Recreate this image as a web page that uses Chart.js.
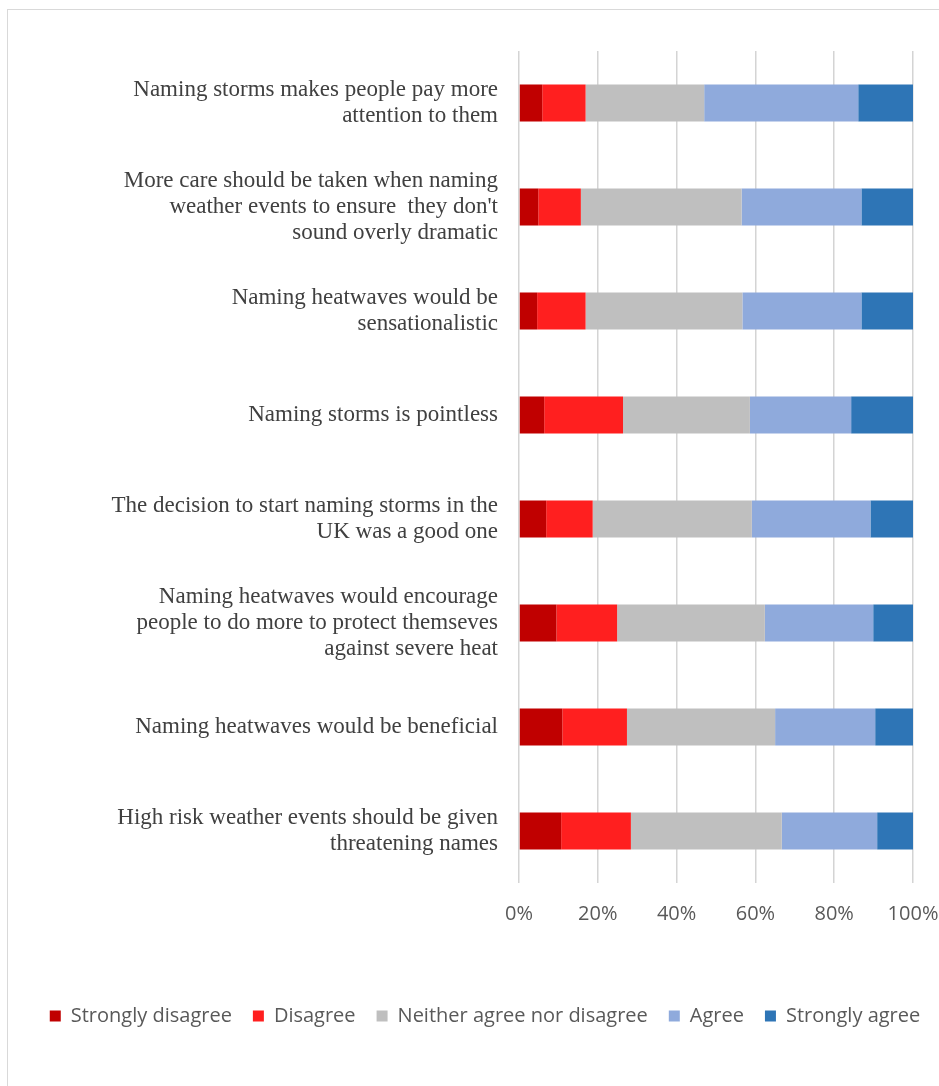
<!DOCTYPE html>
<html>
<head>
<meta charset="utf-8">
<script src="https://cdn.jsdelivr.net/npm/chart.js@4"></script>
<style>
    body { margin: 0; background: #fff; overflow: hidden; }
    .frame { position: absolute; left: 7px; top: 9px; width: 1000px; height: 1200px; border: 1px solid #d9d9d9; }
    .wrap { position: absolute; left: 0; top: 0; width: 970px; height: 1086px; }
</style>
</head>
<body>
<div class="frame"></div>
<div class="wrap"><canvas id="myChart"></canvas></div>
<script>
let categories = [
    ["Naming storms makes people pay more", "attention to them"],
    ["More care should be taken when naming", "weather events to ensure  they don't", "sound overly dramatic"],
    ["Naming heatwaves would be", "sensationalistic"],
    "Naming storms is pointless",
    ["The decision to start naming storms in the", "UK was a good one"],
    ["Naming heatwaves would encourage", "people to do more to protect themseves", "against severe heat"],
    "Naming heatwaves would be beneficial",
    ["High risk weather events should be given", "threatening names"]
]

let stronglyDisagree = [5.9, 4.9, 4.6, 6.4, 6.9, 9.5, 11.0, 10.7]
let disagree = [11.0, 10.8, 12.3, 20.0, 11.8, 15.4, 16.4, 17.7]
let neither = [30.1, 40.8, 39.8, 32.2, 40.4, 37.5, 37.6, 38.3]
let agree = [39.1, 30.4, 30.2, 25.7, 30.1, 27.5, 25.4, 24.2]
let stronglyAgree = [13.9, 13.1, 13.1, 15.7, 10.8, 10.1, 9.6, 9.1]

let tickValues = [0, 20, 40, 60, 80, 100]

function makeSet(label, values, color) {
    return {
        label: label,
        data: values,
        backgroundColor: color,
        borderWidth: 0,
        categoryPercentage: 1,
        barPercentage: 0.356
    }
}

new Chart("myChart", {
    type: "bar",
    data: {
        labels: categories,
        datasets: [
            makeSet("Strongly disagree", stronglyDisagree, "#C00000"),
            makeSet("Disagree", disagree, "#FF1F1F"),
            makeSet("Neither agree nor disagree", neither, "#BFBFBF"),
            makeSet("Agree", agree, "#8FAADC"),
            makeSet("Strongly agree", stronglyAgree, "#2E75B6")
        ]
    },
    options: {
        indexAxis: "y",
        responsive: true,
        maintainAspectRatio: false,
        animation: false,
        layout: { padding: { top: 51, bottom: 50, left: 0, right: 0 } },
        plugins: {
            tooltip: { enabled: false },
            legend: {
                position: "bottom",
                labels: {
                    boxWidth: 11,
                    boxHeight: 11,
                    padding: 21,
                    color: "#595959",
                    font: { family: "'Open Sans'", size: 20 }
                }
            }
        },
        scales: {
            x: {
                stacked: true,
                min: 0,
                max: 100,
                afterBuildTicks: axis => { axis.ticks = tickValues.map(v => ({ value: v })) },
                afterFit: axis => { axis.height = 102; axis.paddingRight = 57 },
                border: { display: false },
                grid: { color: "#d4d4d4", lineWidth: 1.5, drawTicks: false },
                ticks: {
                    padding: 19,
                    color: "#595959",
                    font: { family: "'Open Sans'", size: 20 },
                    callback: v => v + "%"
                }
            },
            y: {
                stacked: true,
                afterFit: axis => { axis.width = 519; axis.paddingTop = 0; axis.paddingBottom = 0 },
                border: { display: false },
                grid: { display: false, drawTicks: false },
                ticks: {
                    padding: 21,
                    color: "#404040",
                    font: { family: "'Liberation Serif'", size: 23, lineHeight: 1.13 }
                }
            }
        }
    }
})
</script>
</body>
</html>
